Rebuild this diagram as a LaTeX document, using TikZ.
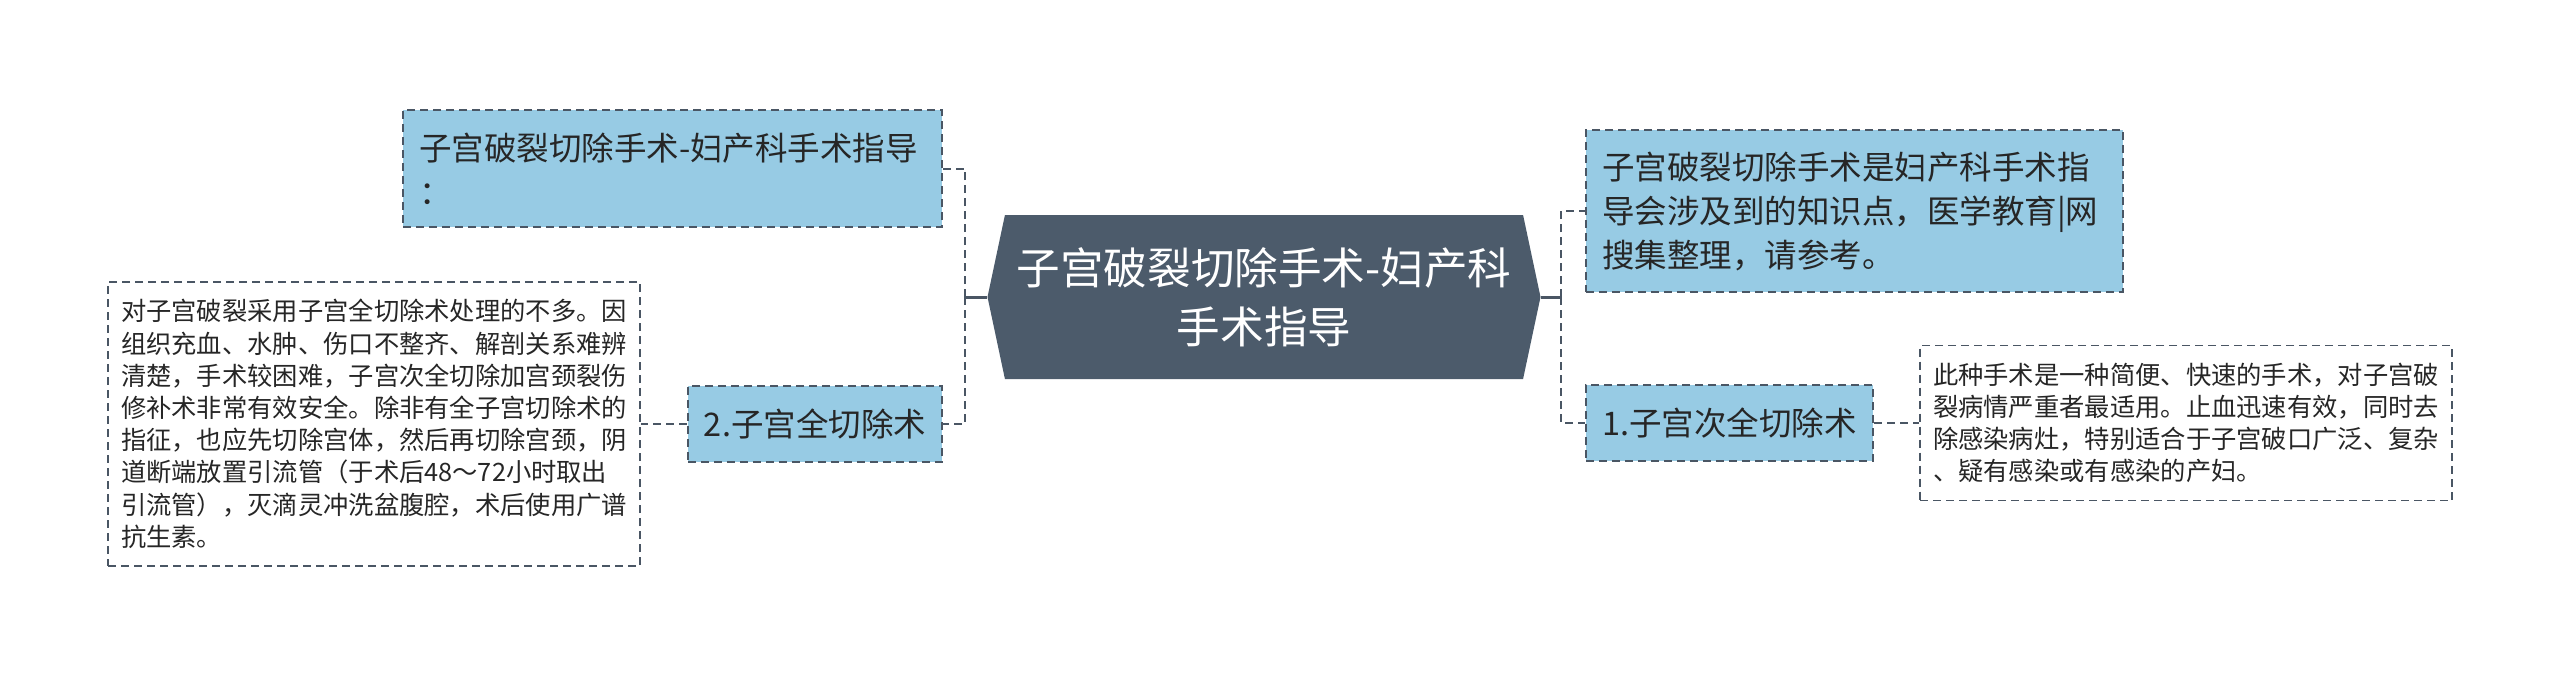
\documentclass[tikz,border=0pt]{standalone}
\usepackage{fontspec}
\setmainfont{Noto Sans CJK SC}
\usepackage{tikz}
\usetikzlibrary{shapes.symbols, positioning}
\usepackage{xcolor}
\definecolor{slate}{HTML}{4C5B6B}
\definecolor{skyfill}{HTML}{97CBE4}
\definecolor{inkline}{HTML}{4A5664}

\begin{document}
\begin{tikzpicture}[x=0.5pt, y=-0.5pt]

% Define block styles
\tikzstyle{root} = [signal, signal to=west and east, signal pointer angle=156, minimum width=276.5pt, minimum height=82pt, inner sep=0pt, fill=slate, text=white, align=center, font=\fontsize{21.8}{29.5}\selectfont]
\tikzstyle{topic} = [rectangle, draw=inkline, line width=1pt, dash pattern=on 4pt off 2.5pt, fill=skyfill, text=black!85, inner xsep=8pt, inner ysep=0pt, font=\fontsize{16.25}{22}\selectfont]
\tikzstyle{note} = [rectangle, draw=inkline, line width=0.8pt, dash pattern=on 4pt off 2.5pt, fill=white, text=black!85, inner xsep=6.5pt, inner ysep=0pt, text width=253pt, align=left, font=\fontsize{12.65}{16.1}\selectfont]
\tikzstyle{link} = [draw=inkline, line width=1pt, dash pattern=on 4pt off 2.5pt]
\tikzstyle{stub} = [draw=inkline, line width=1.5pt]

\useasboundingbox (0,0) rectangle (2560,676);

% Nodes
\node (root) [root] at (1264,297) {子宫破裂切除手术-妇产科\\手术指导};

\node (lefttop) [topic, text width=253.5pt, minimum height=58.5pt, align=left] at (672.5,168.5) {子宫破裂切除手术-妇产科手术指导\\：};
\node (lefthead) [topic, minimum width=127pt, minimum height=38pt] at (815,424) {2.子宫全切除术};
\node (leftnote) [note, minimum height=142pt] at (374,424) {对子宫破裂采用子宫全切除术处理的不多。因\\组织充血、水肿、伤口不整齐、解剖关系难辨\\清楚，手术较困难，子宫次全切除加宫颈裂伤\\修补术非常有效安全。除非有全子宫切除术的\\指征，也应先切除宫体，然后再切除宫颈，阴\\道断端放置引流管（于术后48～72小时取出\\引流管），灭滴灵冲洗盆腹腔，术后使用广谱\\抗生素。};

\node (righttop) [topic, text width=252.5pt, minimum height=81pt, align=left] at (1854.5,211) {子宫破裂切除手术是妇产科手术指\\导会涉及到的知识点，医学教育|网\\搜集整理，请参考。};
\node (righthead) [topic, minimum width=143.5pt, minimum height=38pt] at (1729.5,423) {1.子宫次全切除术};
\node (rightnote) [note, minimum height=77.5pt] at (2186,423) {此种手术是一种简便、快速的手术，对子宫破\\裂病情严重者最适用。止血迅速有效，同时去\\除感染病灶，特别适合于子宫破口广泛、复杂\\、疑有感染或有感染的产妇。};

\coordinate (lj) at (965,297);
\coordinate (rj) at (1561,297);

% Arrows
\draw [stub] (root.west) -- (lj);
\draw [link] (lj) |- (lefttop.east);
\draw [link] (lj) |- (lefthead.east);
\draw [link] (lefthead.west) -- (leftnote.east);

\draw [stub] (root.east) -- (rj);
\draw [link] (rj) |- (righttop.west);
\draw [link] (rj) |- (righthead.west);
\draw [link] (righthead.east) -- (rightnote.west);

\end{tikzpicture}
\end{document}
